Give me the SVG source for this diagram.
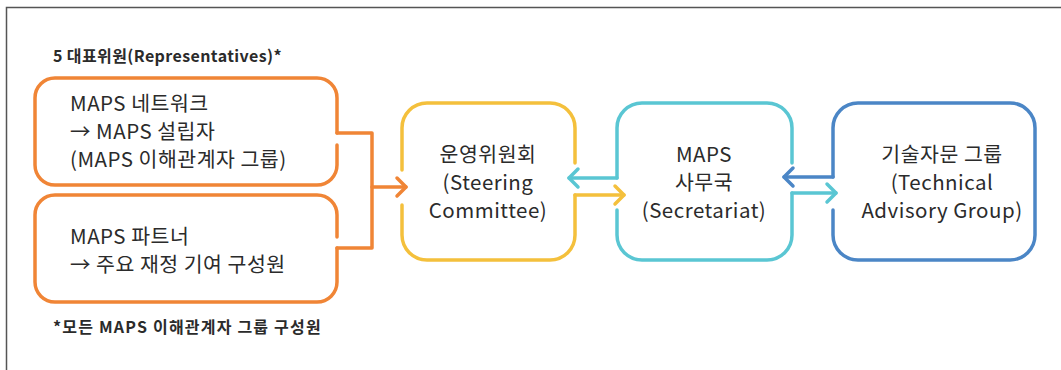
<svg xmlns="http://www.w3.org/2000/svg" width="1061" height="370" viewBox="0 0 1061 370">
<style>
.t{font-family:"Noto Sans CJK KR","Noto Sans",sans-serif;font-size:20.5px;letter-spacing:0.5px;fill:#2b2b2b}
.b{font-family:"Noto Sans CJK KR","Noto Sans",sans-serif;font-size:16px;letter-spacing:0.4px;font-weight:bold;fill:#2b2b2b}
.m{text-anchor:middle}
.n{fill:none;stroke-width:3.5;stroke-linecap:round;stroke-linejoin:round}
.or{stroke:#F08536}.ye{stroke:#F4C03C}.te{stroke:#5AC6D3}.bl{stroke:#4B86C6}
</style>
<defs>
<marker id="ao" markerUnits="userSpaceOnUse" markerWidth="24" markerHeight="24" viewBox="-12 -12 24 24" refX="0" refY="0" orient="auto"><path d="M-9,-9 L0,0 L-9,9" fill="none" stroke="#F08536" stroke-width="3.5" stroke-linecap="round" stroke-linejoin="round"/></marker>
<marker id="ay" markerUnits="userSpaceOnUse" markerWidth="24" markerHeight="24" viewBox="-12 -12 24 24" refX="0" refY="0" orient="auto"><path d="M-9,-9 L0,0 L-9,9" fill="none" stroke="#F4C03C" stroke-width="3.5" stroke-linecap="round" stroke-linejoin="round"/></marker>
<marker id="at" markerUnits="userSpaceOnUse" markerWidth="24" markerHeight="24" viewBox="-12 -12 24 24" refX="0" refY="0" orient="auto"><path d="M-9,-9 L0,0 L-9,9" fill="none" stroke="#5AC6D3" stroke-width="3.5" stroke-linecap="round" stroke-linejoin="round"/></marker>
<marker id="ab" markerUnits="userSpaceOnUse" markerWidth="24" markerHeight="24" viewBox="-12 -12 24 24" refX="0" refY="0" orient="auto"><path d="M-9,-9 L0,0 L-9,9" fill="none" stroke="#4B86C6" stroke-width="3.5" stroke-linecap="round" stroke-linejoin="round"/></marker>
</defs>
<rect width="1061" height="370" fill="#fff"/>
<path d="M6.5,370 V7.5 H1061" fill="none" stroke="#555" stroke-width="1.5"/>
<text class="b" x="53" y="62">5 대표위원(Representatives)*</text>
<text class="b" x="53" y="333" style="letter-spacing:1.2px">*모든 MAPS 이해관계자 그룹 구성원</text>
<g id="node-network">
<path class="n or" d="M337,133 V98 A20,20 0 0 0 317,78 H55 A20,20 0 0 0 35,98 V165 A20,20 0 0 0 55,185 H317 A20,20 0 0 0 337,165 V145"/>
<text class="t" x="70" y="111">MAPS 네트워크</text>
<text class="t" x="70" y="139">→ MAPS 설립자</text>
<text class="t" x="70" y="167">(MAPS 이해관계자 그룹)</text>
</g>
<g id="node-partner">
<path class="n or" d="M337,237 V215 A20,20 0 0 0 317,195 H55 A20,20 0 0 0 35,215 V282 A20,20 0 0 0 55,302 H317 A20,20 0 0 0 337,282 V248"/>
<text class="t" x="70" y="244">MAPS 파트너</text>
<text class="t" x="70" y="272">→ 주요 재정 기여 구성원</text>
</g>
<g id="node-steering">
<path class="n ye" d="M402,170 V128 A25,25 0 0 1 427,103 H550 A25,25 0 0 1 575,128 V163 M575,195 V235 A25,25 0 0 1 550,260 H427 A25,25 0 0 1 402,235 V205"/>
<text class="t m" x="488" y="162">운영위원회</text>
<text class="t m" x="488" y="190">(Steering</text>
<text class="t m" x="488" y="218">Committee)</text>
</g>
<g id="node-secretariat">
<path class="n te" d="M617,178 V128 A25,25 0 0 1 642,103 H767 A25,25 0 0 1 792,128 V163 M792,193 V235 A25,25 0 0 1 767,260 H642 A25,25 0 0 1 617,235 V210"/>
<text class="t m" x="704" y="162">MAPS</text>
<text class="t m" x="704" y="190">사무국</text>
<text class="t m" x="704" y="218">(Secretariat)</text>
</g>
<g id="node-tag">
<path class="n bl" d="M833,177 V128 A25,25 0 0 1 858,103 H1010 A25,25 0 0 1 1035,128 V235 A25,25 0 0 1 1010,260 H858 A25,25 0 0 1 833,235 V210"/>
<text class="t m" x="942" y="162">기술자문 그룹</text>
<text class="t m" x="942" y="190">(Technical</text>
<text class="t m" x="942" y="218">Advisory Group)</text>
</g>
<g id="connectors">
<path class="n or" d="M337,133 H372 V248 H337"/>
<path class="n or" d="M372,187 H406" marker-end="url(#ao)"/>
<path class="n te" d="M617,178 H569" marker-end="url(#at)"/>
<path class="n ye" d="M575,195 H624" marker-end="url(#ay)"/>
<path class="n te" d="M792,193 H836" marker-end="url(#at)"/>
<path class="n bl" d="M833,177 H784" marker-end="url(#ab)"/>
</g>
</svg>
